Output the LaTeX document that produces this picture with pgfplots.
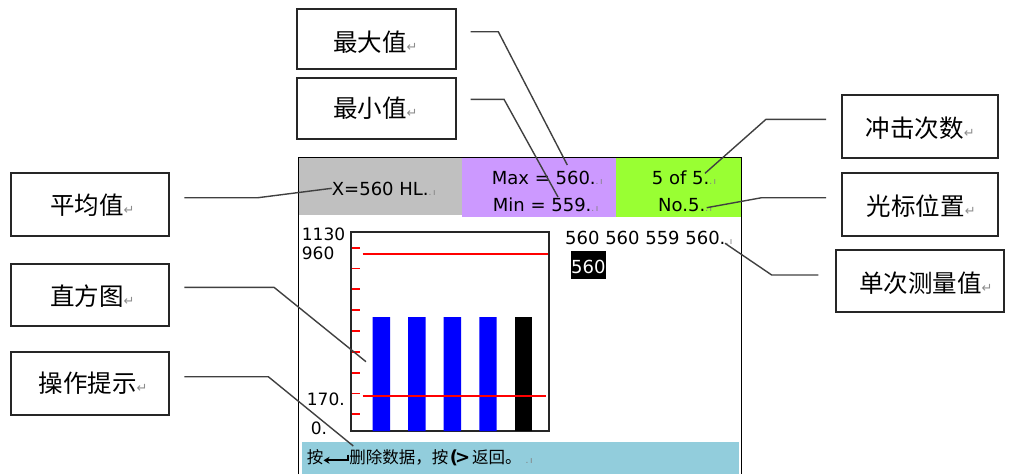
\documentclass[border=0pt]{standalone}
\usepackage{fontspec}
\setmainfont{DejaVu Sans}
\newfontfamily\cjk{Noto Sans CJK SC}
\usepackage{pgfplots}
\pgfplotsset{compat=1.18}
\usetikzlibrary{arrows.meta}
\definecolor{bandgray}{RGB}{192,192,192}
\definecolor{bandlav}{RGB}{204,153,255}
\definecolor{bandgreen}{RGB}{153,255,51}
\definecolor{bandteal}{RGB}{146,205,220}
\newcommand\retmark{{\rmfamily\fontsize{13}{14}\selectfont\color{black!45}↵}}
\newcommand\cellmark{{\rmfamily\fontsize{9}{10}\selectfont\color{black!50}.\,ı}}
\begin{document}
\begin{tikzpicture}[x=1pt,y=-1pt]
\useasboundingbox (0,0) rectangle (1011,474);
% screen bands
\fill[bandgray] (299,158) rectangle (462.3,215);
\fill[bandlav] (462.3,158) rectangle (616,216.5);
\fill[bandgreen] (616,158) rectangle (741,216.5);
\fill[bandteal] (302.3,441.7) rectangle (739.3,474);
\draw[line width=1.4pt] (298.5,474) -- (298.5,157.7) -- (741.5,157.7) -- (741.5,474);
% histogram
\begin{axis}[at={(351pt,-232pt)}, anchor=north west, scale only axis,
  width=198pt, height=199pt,
  xmin=0.148, xmax=5.717, ymin=0, ymax=1130,
  axis line style={line width=1.5pt, black!85},
  xtick=\empty,
  ytick={95,213,331,450,568,686,805,923,1041},
  yticklabels={},
  ytick pos=left, tick align=inside, major tick length=9pt,
  ytick style={red, line width=1.8pt}]
\addplot[ybar, bar shift=0pt, bar width=0.49, fill=blue, draw=none]
  coordinates {(1,646) (2,646) (3,646) (4,646)};
\addplot[ybar, bar shift=0pt, bar width=0.49, fill=black, draw=none]
  coordinates {(5,646)};
\addplot[red, line width=1.8pt] coordinates {(0.477,1007) (5.698,1007)};
\addplot[red, line width=1.8pt] coordinates {(0.477,199) (5.633,199)};
\end{axis}
% axis labels
\begin{scope}[every node/.style={anchor=west, inner sep=0pt, font=\fontsize{17}{18}\selectfont}]
\node at (301.7,234) {1130};
\node at (301.7,253.3) {960};
\node at (306.7,399.3) {170.};
\node at (310.7,428.3) {0.};
\end{scope}
% header texts
\begin{scope}[every node/.style={anchor=west, inner sep=0pt, font=\fontsize{18}{20}\selectfont}]
\node at (331.7,189) {X=560 HL.\cellmark};
\node at (491.7,178) {Max = 560.\cellmark};
\node at (492.7,205) {Min = 559.\cellmark};
\node at (651.7,178) {5 of 5.\cellmark};
\node at (658,205) {No.5.\cellmark};
\node at (565,238.3) {560 560 559 560.\cellmark};
\end{scope}
\fill[black] (570.7,251) rectangle (606,279.3);
\node[anchor=center, inner sep=0pt, text=white, font=\fontsize{18}{20}\selectfont] at (588.3,266.5) {560};
% bottom prompt
\node[anchor=west, inner sep=0pt, font=\cjk\fontsize{16.5}{18}\selectfont] at (306.7,458)
  {按\hspace{26pt}删除数据，按\hspace{1.5pt}{\rmfamily\bfseries\fontsize{18}{18}\selectfont(\kern-3pt>}\hspace{2pt}返回。\hspace{4pt}\cellmark};
\draw[line width=2pt, -{Stealth[length=6pt,width=7pt]}] (348.3,454.5) -- (348.3,460.3) -- (323.5,460.3);
% callout boxes
\begin{scope}[line width=1.7pt, draw=black!85]
\draw (297.3,9) rectangle (455.7,69.3);
\draw (297.3,77.7) rectangle (455.7,139.3);
\draw (841.7,95) rectangle (997.7,157.7);
\draw (841.7,173.3) rectangle (997.7,236);
\draw (835.7,250) rectangle (1004,312.3);
\draw (10.7,173.3) rectangle (169.3,236);
\draw (10.7,264) rectangle (169.3,326);
\draw (10.7,352.3) rectangle (169.3,415);
\end{scope}
\begin{scope}[every node/.style={anchor=west, inner sep=0pt, font=\cjk\fontsize{24.5}{28}\selectfont}]
\node at (333,41.7) {最大值\retmark};
\node at (333,108.3) {最小值\retmark};
\node at (865.7,128.3) {冲击次数\retmark};
\node at (866.7,206) {光标位置\retmark};
\node at (859,283.3) {单次测量值\retmark};
\node at (50,205) {平均值\retmark};
\node at (50,295.7) {直方图\retmark};
\node at (38.3,383.3) {操作提示\retmark};
\end{scope}
% leader lines
\begin{scope}[line width=1.4pt, draw=black!75]
\draw (470.7,31.7) -- (498.3,31.7) -- (567.3,165);
\draw (470.7,99.3) -- (504,99.3) -- (558,197);
\draw (826,119.3) -- (766,119.3) -- (705,173.3);
\draw (826,197.7) -- (761.7,197.7) -- (706.7,207.7);
\draw (818.3,275) -- (771.7,275) -- (725,243.3);
\draw (184.3,197.7) -- (258,197.7) -- (331.7,188.3);
\draw (184.3,287.3) -- (274,287.3) -- (366,361.7);
\draw (184.3,376.7) -- (268.3,376.7) -- (353.3,446);
\end{scope}
\end{tikzpicture}
\end{document}
